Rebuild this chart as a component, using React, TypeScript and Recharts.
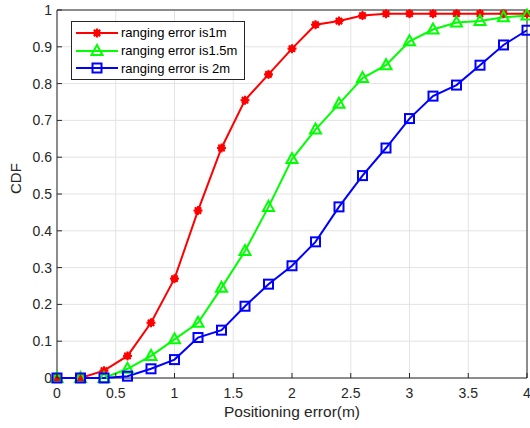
import React from 'react';
import { LineChart, Line, XAxis, YAxis, CartesianGrid, Legend, ReferenceArea } from 'recharts';

const xValues = [0, 0.2, 0.4, 0.6, 0.8, 1, 1.2, 1.4, 1.6, 1.8, 2, 2.2, 2.4, 2.6, 2.8, 3, 3.2, 3.4, 3.6, 3.8, 4];
const err1m = [0, 0, 0.02, 0.06, 0.15, 0.27, 0.455, 0.625, 0.755, 0.825, 0.895, 0.96, 0.97, 0.985, 0.99, 0.99, 0.99, 0.99, 0.99, 0.99, 0.99];
const err15m = [0, 0, 0, 0.025, 0.06, 0.105, 0.15, 0.245, 0.345, 0.465, 0.595, 0.675, 0.745, 0.815, 0.85, 0.915, 0.947, 0.966, 0.97, 0.98, 0.985];
const err2m = [0, 0, 0, 0.005, 0.025, 0.05, 0.11, 0.13, 0.195, 0.255, 0.305, 0.37, 0.465, 0.55, 0.625, 0.705, 0.766, 0.796, 0.85, 0.905, 0.945];
const xTicks = [0, 0.5, 1, 1.5, 2, 2.5, 3, 3.5, 4];
const yTicks = [0, 0.1, 0.2, 0.3, 0.4, 0.5, 0.6, 0.7, 0.8, 0.9, 1];
const seriesNames = ['ranging error is1m', 'ranging error is1.5m', 'ranging error is 2m'];

const data = xValues.map((x, i) => ({ x, a: err1m[i], b: err15m[i], c: err2m[i] }));

const AXIS = '#262626';
const FONT = '"Liberation Sans", Arial, sans-serif';

const StarDot = ({ cx, cy }: any) => {
  if (cx == null || cy == null) return null;
  const r = 4.5;
  return (
    <g stroke="#ff0000" strokeWidth={2}>
      <circle cx={cx} cy={cy} r={2.5} fill="#ff0000" />
      {[0, 45, 90, 135].map((a) => {
        const dx = r * Math.cos((a * Math.PI) / 180);
        const dy = r * Math.sin((a * Math.PI) / 180);
        return <line key={a} x1={cx - dx} y1={cy - dy} x2={cx + dx} y2={cy + dy} />;
      })}
    </g>
  );
};

const TriDot = ({ cx, cy }: any) => {
  if (cx == null || cy == null) return null;
  return (
    <polygon
      points={`${cx},${cy - 6} ${cx - 5.5},${cy + 4} ${cx + 5.5},${cy + 4}`}
      fill="none"
      stroke="#00ff00"
      strokeWidth={2}
    />
  );
};

const SqDot = ({ cx, cy }: any) => {
  if (cx == null || cy == null) return null;
  return <rect x={cx - 4.5} y={cy - 4.5} width={9} height={9} fill="none" stroke="#0000ff" strokeWidth={2} />;
};

const BottomTick = ({ x, y, payload }: any) => (
  <g>
    <line x1={x} x2={x} y1={y} y2={y - 5} stroke={AXIS} />
    <text x={x} y={y + 20} textAnchor="middle" fontSize={14} fontFamily={FONT} fill={AXIS}>
      {payload.value}
    </text>
  </g>
);

const LeftTick = ({ x, y, payload }: any) => (
  <g>
    <line x1={x} x2={x + 5} y1={y} y2={y} stroke={AXIS} />
    <text x={x - 5} y={y + 5} textAnchor="end" fontSize={14} fontFamily={FONT} fill={AXIS}>
      {payload.value}
    </text>
  </g>
);

const TopTick = ({ x, y }: any) => <line x1={x} x2={x} y1={y} y2={y + 5} stroke={AXIS} />;
const RightTick = ({ x, y }: any) => <line x1={x} x2={x - 5} y1={y} y2={y} stroke={AXIS} />;

const LegendBox = () => {
  const icons = [StarDot, TriDot, SqDot];
  const colors = ['#ff0000', '#00ff00', '#0000ff'];
  return (
    <div
      style={{
        border: '1px solid #262626',
        background: '#fff',
        padding: '2px 7px 2px 4px',
        fontFamily: FONT,
        fontSize: 13,
        color: '#000',
      }}
    >
      {seriesNames.map((name, i) => {
        const Icon = icons[i];
        return (
          <div key={name} style={{ display: 'flex', alignItems: 'center', height: 17.8 }}>
            <svg width={42} height={16} style={{ marginRight: 3 }}>
              <line x1={0} x2={42} y1={8} y2={8} stroke={colors[i]} strokeWidth={2} />
              <Icon cx={21} cy={8} />
            </svg>
            <span>{name}</span>
          </div>
        );
      })}
    </div>
  );
};

export default function App() {
  return (
    <div style={{ position: 'absolute', left: 0, top: 0, background: '#fff' }}>
      <LineChart width={530} height={428} data={data} margin={{ top: 10, right: 3, bottom: 0, left: 0 }}>
        <CartesianGrid stroke="#e3e3e3" horizontalValues={yTicks} verticalValues={xTicks} />
        <ReferenceArea x1={0} x2={4} y1={0} y2={1} fill="none" stroke={AXIS} strokeWidth={1} ifOverflow="visible" />
        <XAxis
          dataKey="x"
          type="number"
          domain={[0, 4]}
          ticks={xTicks}
          tick={<BottomTick />}
          tickLine={false}
          tickSize={0}
          tickMargin={0}
          axisLine={false}
          height={50}
          interval={0}
          label={{ value: 'Positioning error(m)', position: 'insideBottom', offset: 11, fill: AXIS, fontSize: 15.5, fontFamily: FONT }}
        />
        <XAxis
          xAxisId="top"
          orientation="top"
          dataKey="x"
          type="number"
          domain={[0, 4]}
          ticks={xTicks}
          tick={<TopTick />}
          tickLine={false}
          tickSize={0}
          tickMargin={0}
          axisLine={false}
          height={0}
          interval={0}
        />
        <YAxis
          type="number"
          domain={[0, 1]}
          ticks={yTicks}
          tick={<LeftTick />}
          tickLine={false}
          tickSize={0}
          tickMargin={0}
          axisLine={false}
          width={57}
          interval={0}
          label={{ value: 'CDF', angle: -90, position: 'insideLeft', offset: 16, fill: AXIS, fontSize: 15, fontFamily: FONT }}
        />
        <YAxis
          yAxisId="right"
          orientation="right"
          type="number"
          domain={[0, 1]}
          ticks={yTicks}
          tick={<RightTick />}
          tickLine={false}
          tickSize={0}
          tickMargin={0}
          axisLine={false}
          width={0}
          interval={0}
        />
        <Legend
          layout="vertical"
          align="center"
          verticalAlign="middle"
          content={<LegendBox />}
          wrapperStyle={{ left: 71, top: 21, width: 'auto', height: 'auto' }}
        />
        <Line dataKey="a" name={seriesNames[0]} stroke="#ff0000" strokeWidth={2} dot={<StarDot />} isAnimationActive={false} />
        <Line dataKey="b" name={seriesNames[1]} stroke="#00ff00" strokeWidth={2} dot={<TriDot />} isAnimationActive={false} />
        <Line dataKey="c" name={seriesNames[2]} stroke="#0000ff" strokeWidth={2} dot={<SqDot />} isAnimationActive={false} />
      </LineChart>
    </div>
  );
}
